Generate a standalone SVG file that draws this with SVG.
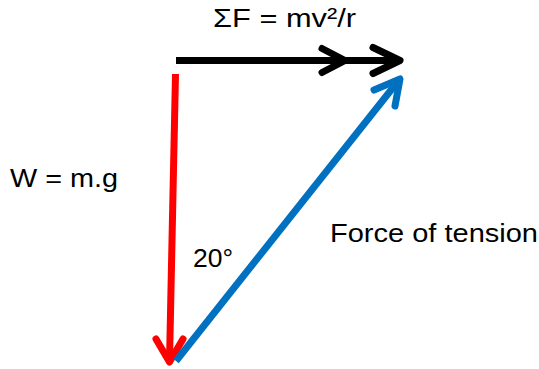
<svg xmlns="http://www.w3.org/2000/svg" width="539" height="369" viewBox="0 0 539 369">
<style>
.lbl{font-family:"Liberation Sans",Arial,sans-serif;font-size:26.5px;fill:#000}
.arr{fill:none;stroke-width:7;stroke-linecap:round;stroke-linejoin:round}
</style>
<rect width="539" height="369" fill="#fff"/>
<g id="connectors">
<g id="net-force" stroke="#000" class="arr">
<line x1="176" y1="60.5" x2="399" y2="60.5" stroke-linecap="butt"/>
<polyline points="322,48.5 345,60.5 322,72.5"/>
<polyline points="373,47.5 400,60.5 373,73.5"/>
</g>
<g id="weight" stroke="#FF0000" class="arr">
<line x1="175.5" y1="74" x2="169.5" y2="361" stroke-linecap="butt"/>
<polyline points="156,339 169.5,362 183,339"/>
</g>
<g id="tension" stroke="#0070C0" class="arr">
<line x1="176" y1="361" x2="399" y2="80" stroke-linecap="butt"/>
<polyline points="374,90 400,79 395,106"/>
</g>
</g>
<g id="label-net-force"><text class="lbl" x="213" y="27" textLength="143" lengthAdjust="spacingAndGlyphs">ΣF = mv²/r</text></g>
<g id="label-weight"><text class="lbl" x="10" y="187" textLength="108" lengthAdjust="spacingAndGlyphs">W = m.g</text></g>
<g id="label-tension"><text class="lbl" x="330" y="242" textLength="208" lengthAdjust="spacingAndGlyphs">Force of tension</text></g>
<g id="label-angle"><text class="lbl" x="193" y="267">20°</text></g>
</svg>
